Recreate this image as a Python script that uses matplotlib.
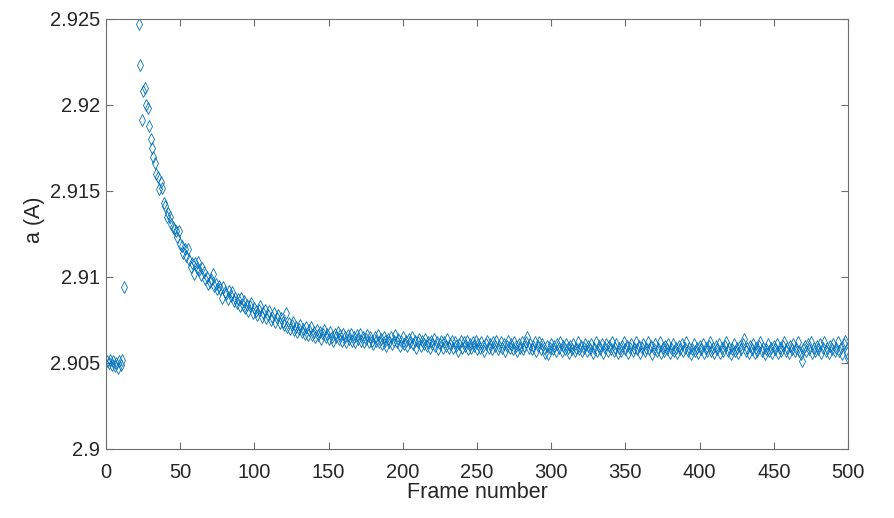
import numpy as np
import matplotlib
matplotlib.use("Agg")
import matplotlib.pyplot as plt

# ---- data ----
frames_start = [1, 2, 3, 4, 5, 6, 7, 8, 9, 10, 11, 12]
a_start = [2.9051, 2.9050, 2.9052, 2.9049, 2.9051, 2.9048, 2.9050, 2.9047,
           2.9051, 2.9049, 2.9052, 2.9094]

first_decay_frame = 22
a_decay = [
    2.9247, 2.9223, 2.9191, 2.9208, 2.9210, 2.9200, 2.9198, 2.9188, 2.9180, 2.9175,
    2.9170, 2.9166, 2.9160, 2.9158, 2.9151, 2.9155, 2.9152, 2.9143, 2.9141, 2.9135,
    2.9137, 2.9135, 2.9131, 2.9129, 2.9128, 2.9127, 2.9123, 2.9127, 2.9119, 2.9118,
    2.9114, 2.9116, 2.9112, 2.9116, 2.9110, 2.9106, 2.9108, 2.9102, 2.9108, 2.9105,
    2.9109, 2.9104, 2.9101, 2.9105, 2.9103, 2.9099, 2.9100, 2.9096, 2.9097, 2.9099,
    2.9102, 2.9095, 2.9096, 2.9093, 2.9095, 2.9093, 2.9088, 2.9094, 2.9091, 2.9090,
    2.9087, 2.9092, 2.9089, 2.9091, 2.9086, 2.9088, 2.9085, 2.9087, 2.9083, 2.9088,
    2.9084, 2.9086, 2.9082, 2.9084, 2.9080, 2.9083, 2.9085, 2.9079, 2.9082, 2.9080,
    2.9078, 2.9081, 2.9083, 2.9077, 2.9079, 2.9081, 2.9076, 2.9078, 2.9080, 2.9075,
    2.9077, 2.9079, 2.9074, 2.9076, 2.9078, 2.9073, 2.9076, 2.9074, 2.9072, 2.9079,
    2.9071, 2.9073, 2.9070, 2.9072, 2.9074, 2.9069, 2.9071, 2.9068, 2.9070, 2.9072,
    2.9068, 2.9070, 2.9067, 2.9071, 2.9066, 2.9069, 2.9071, 2.9066, 2.9068, 2.9065,
    2.9069, 2.9066, 2.9068, 2.9064, 2.9067, 2.9069, 2.9065, 2.9067, 2.9064, 2.9068,
    2.9065, 2.9063, 2.9067, 2.9065, 2.9068, 2.9064, 2.9066, 2.9063, 2.9067, 2.9065,
    2.9062, 2.9066, 2.9064, 2.9067, 2.9063, 2.9065, 2.9062, 2.9066, 2.9064, 2.9067,
    2.9063, 2.9065, 2.9062, 2.9064, 2.9066, 2.9062, 2.9065, 2.9063, 2.9061, 2.9065,
    2.9063, 2.9066, 2.9062, 2.9064, 2.9061, 2.9065, 2.9063, 2.9060, 2.9064, 2.9062,
    2.9065, 2.9061, 2.9063, 2.9066, 2.9062, 2.9064, 2.9060, 2.9063, 2.9065, 2.9061,
    2.9063, 2.9060, 2.9064, 2.9062, 2.9065, 2.9061, 2.9063, 2.9059, 2.9062, 2.9064,
    2.9060, 2.9063, 2.9061, 2.9064, 2.9060, 2.9062, 2.9059, 2.9063, 2.9061, 2.9064,
    2.9060, 2.9062, 2.9058, 2.9061, 2.9063, 2.9059, 2.9062, 2.9060, 2.9064, 2.9059,
    2.9061, 2.9063, 2.9059, 2.9062, 2.9060, 2.9057, 2.9061, 2.9063, 2.9059, 2.9062,
    2.9060, 2.9063, 2.9058, 2.9061, 2.9059, 2.9062, 2.9060, 2.9063, 2.9058, 2.9061,
    2.9059, 2.9062, 2.9060, 2.9057, 2.9061, 2.9063, 2.9059, 2.9061, 2.9058, 2.9062,
    2.9060, 2.9063, 2.9058, 2.9060, 2.9062, 2.9059, 2.9061, 2.9057, 2.9060, 2.9063,
    2.9059, 2.9061, 2.9058, 2.9062, 2.9060, 2.9057, 2.9061, 2.9059, 2.9062, 2.9058,
    2.9060, 2.9062, 2.9065, 2.9059, 2.9061, 2.9058, 2.9060, 2.9062, 2.9057, 2.9060,
    2.9062, 2.9058, 2.9061, 2.9059, 2.9056, 2.9060, 2.9055, 2.9059, 2.9061, 2.9058,
    2.9060, 2.9057, 2.9061, 2.9059, 2.9062, 2.9057, 2.9060, 2.9058, 2.9061, 2.9059,
    2.9056, 2.9060, 2.9058, 2.9061, 2.9057, 2.9059, 2.9062, 2.9058, 2.9060, 2.9057,
    2.9059, 2.9061, 2.9057, 2.9060, 2.9058, 2.9061, 2.9056, 2.9059, 2.9062, 2.9057,
    2.9060, 2.9058, 2.9061, 2.9056, 2.9059, 2.9061, 2.9057, 2.9060, 2.9058, 2.9062,
    2.9057, 2.9059, 2.9061, 2.9056, 2.9059, 2.9057, 2.9060, 2.9062, 2.9058, 2.9060,
    2.9056, 2.9059, 2.9061, 2.9057, 2.9059, 2.9062, 2.9058, 2.9060, 2.9056, 2.9059,
    2.9061, 2.9057, 2.9059, 2.9062, 2.9058, 2.9060, 2.9055, 2.9058, 2.9061, 2.9057,
    2.9059, 2.9062, 2.9056, 2.9059, 2.9057, 2.9060, 2.9058, 2.9061, 2.9056, 2.9059,
    2.9061, 2.9057, 2.9059, 2.9056, 2.9060, 2.9058, 2.9061, 2.9057, 2.9059, 2.9062,
    2.9057, 2.9059, 2.9055, 2.9058, 2.9061, 2.9057, 2.9059, 2.9056, 2.9060, 2.9058,
    2.9061, 2.9056, 2.9059, 2.9057, 2.9060, 2.9062, 2.9057, 2.9059, 2.9056, 2.9060,
    2.9058, 2.9061, 2.9056, 2.9059, 2.9057, 2.9060, 2.9062, 2.9057, 2.9059, 2.9055,
    2.9058, 2.9061, 2.9057, 2.9059, 2.9056, 2.9060, 2.9058, 2.9061, 2.9064, 2.9057,
    2.9059, 2.9056, 2.9060, 2.9058, 2.9061, 2.9056, 2.9059, 2.9057, 2.9060, 2.9062,
    2.9057, 2.9059, 2.9055, 2.9058, 2.9061, 2.9057, 2.9059, 2.9056, 2.9060, 2.9058,
    2.9061, 2.9056, 2.9059, 2.9057, 2.9060, 2.9062, 2.9057, 2.9059, 2.9056, 2.9060,
    2.9058, 2.9061, 2.9057, 2.9059, 2.9062, 2.9057, 2.9055, 2.9051, 2.9058, 2.9060,
    2.9057, 2.9061, 2.9058, 2.9062, 2.9056, 2.9059, 2.9057, 2.9060, 2.9058, 2.9061,
    2.9056, 2.9059, 2.9062, 2.9057, 2.9059, 2.9056, 2.9060, 2.9058, 2.9061, 2.9057,
    2.9059, 2.9062, 2.9057, 2.9059, 2.9055, 2.9061, 2.9063, 2.9056, 2.9053,
]
frames_decay = list(range(first_decay_frame, first_decay_frame + len(a_decay)))

x_ticks = [0, 50, 100, 150, 200, 250, 300, 350, 400, 450, 500]
y_ticks = [2.9, 2.905, 2.91, 2.915, 2.92, 2.925]
y_tick_labels = ["2.9", "2.905", "2.91", "2.915", "2.92", "2.925"]

# ---- plotting ----
plt.rcParams['font.family'] = ['Liberation Sans', 'DejaVu Sans']
text_color = '#262626'
axis_color = '#6e6e6e'
marker_color = '#0072BD'

fig = plt.figure(figsize=(8.94, 5.18), dpi=100)
ax = fig.add_axes([106 / 894, 69 / 518, 742 / 894, 430 / 518])

x_all = frames_start + frames_decay
y_all = a_start + a_decay
ax.plot(x_all, y_all, linestyle='none', marker='d', markersize=5.8,
        markerfacecolor='none', markeredgecolor=marker_color,
        markeredgewidth=0.6, clip_on=True)

ax.set_xlim(0, 500)
ax.set_ylim(2.9, 2.925)
ax.set_xticks(x_ticks)
ax.set_xticklabels([str(t) for t in x_ticks])
ax.set_yticks(y_ticks)
ax.set_yticklabels(y_tick_labels)

for s in ax.spines.values():
    s.set_color(axis_color)
    s.set_linewidth(0.8)

ax.tick_params(axis='both', direction='in', length=5.3, width=0.8,
               color=axis_color, labelcolor=text_color, labelsize=14.5,
               top=True, right=True)
ax.tick_params(axis='x', pad=10)
ax.tick_params(axis='y', pad=4)

ax.set_xlabel('Frame number', fontsize=15.5, color=text_color, labelpad=0)
ax.set_ylabel('a (A)', fontsize=15.5, color=text_color)
ax.yaxis.set_label_coords(-0.082, 0.533)

fig.savefig('out.png', dpi=100)
